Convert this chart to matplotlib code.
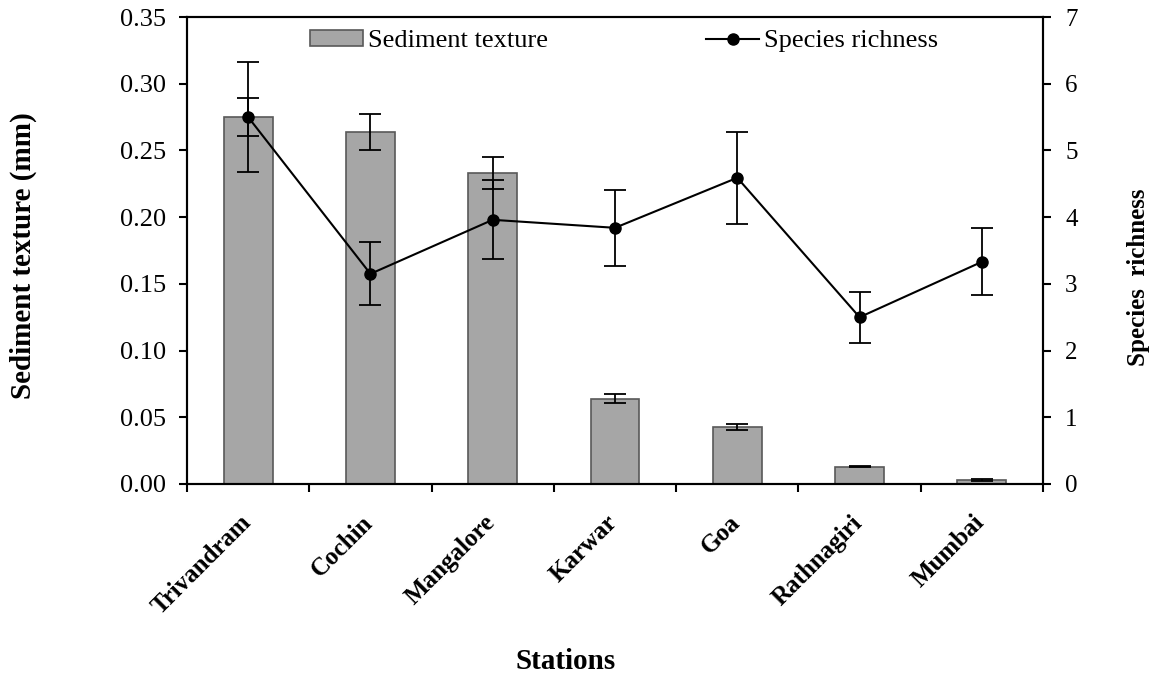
import matplotlib
matplotlib.use("Agg")
import matplotlib.pyplot as plt
import matplotlib.transforms as mtransforms
import numpy as np
from matplotlib.ticker import FixedLocator, NullFormatter
from matplotlib.lines import Line2D

plt.rcParams['font.family'] = ['Liberation Serif', 'DejaVu Serif']

stations = ["Trivandram", "Cochin", "Mangalore", "Karwar", "Goa", "Rathnagiri", "Mumbai"]
sediment = [0.275, 0.264, 0.233, 0.064, 0.043, 0.013, 0.003]
sediment_err = [0.014, 0.0135, 0.012, 0.0034, 0.0023, 0.0006, 0.0004]
richness = [5.50, 3.15, 3.96, 3.84, 4.59, 2.50, 3.33]
richness_err = [0.82, 0.47, 0.59, 0.57, 0.69, 0.38, 0.50]

W, H = 1166, 680
L, R, T, B = 187, 1043, 17, 484
fig = plt.figure(figsize=(W / 100, H / 100), dpi=100)
ax = fig.add_axes([L / W, 1 - B / H, (R - L) / W, (B - T) / H])
ax2 = ax.twinx()

x = np.arange(len(stations))
bars = ax.bar(x, sediment, width=0.4, color="#A6A6A6", edgecolor="#595959",
              linewidth=1.2, yerr=sediment_err,
              error_kw=dict(ecolor="black", elinewidth=1.3, capsize=8, capthick=1.3),
              zorder=2)

ax2.errorbar(x, richness, yerr=richness_err, color="black", linewidth=1.5,
             marker="o", markersize=8, ecolor="black", elinewidth=1.3,
             capsize=8, capthick=1.3)

ax.set_xlim(-0.5, len(stations) - 0.5)
ax.set_ylim(0, 0.35)
ax2.set_ylim(0, 7)
yt = np.arange(0, 0.351, 0.05)
ax.set_yticks(yt)
ax.set_yticklabels([f"{v:.2f}" for v in yt])
ax2.set_yticks(range(0, 8))

# station names, slanted, hanging below each category centre
ax.set_xticks(x)
ax.set_xticklabels([])
offset = mtransforms.ScaledTranslation(-9 / 100, -27 / 100, fig.dpi_scale_trans)
for xi, name in zip(x, stations):
    ax.text(xi, 0, name, transform=ax.get_xaxis_transform() + offset,
            rotation=45, ha="right", va="top", rotation_mode="anchor",
            fontweight="bold", fontsize=18)
ax.xaxis.set_minor_locator(FixedLocator(np.arange(-0.5, len(stations), 1.0)))
ax.xaxis.set_minor_formatter(NullFormatter())
ax.tick_params(axis="x", which="major", length=0)
ax.tick_params(axis="x", which="minor", length=6, width=1.5, direction="out")
ax.tick_params(axis="y", length=6, width=1.5, direction="out", labelsize=19, pad=9)
ax2.tick_params(axis="y", length=6, width=1.5, direction="out", labelsize=18, pad=10)

for a in (ax, ax2):
    for s in a.spines.values():
        s.set_linewidth(1.5)

ax.set_xlabel("Stations", fontsize=21, fontweight="bold")
ax.xaxis.set_label_coords((566 - L) / (R - L), -(648 - B) / (B - T))
ax.set_ylabel("Sediment texture (mm)", fontsize=21, fontweight="bold", va="center")
ax.yaxis.set_label_coords(-(L - 23) / (R - L), 1 - (256 - T) / (B - T))
ax2.set_ylabel("Species  richness", fontsize=18, fontweight="bold", rotation=90,
               va="center")
ax2.yaxis.set_label_coords(1 + (1138 - R) / (R - L), 1 - (277 - T) / (B - T))

bar_handle = plt.Rectangle((0, 0), 1, 1, facecolor="#A6A6A6", edgecolor="#595959",
                           linewidth=1.2)
line_handle = Line2D([], [], color="black", linewidth=1.5, marker="o", markersize=8)
fig.legend([bar_handle, line_handle], ["Sediment texture", "Species richness"],
           loc="center left", bbox_to_anchor=(310 / W, 1 - 41 / H),
           ncol=2, frameon=False, fontsize=19, borderpad=0, borderaxespad=0,
           handlelength=2.0, handleheight=0.6, handletextpad=0.2, columnspacing=6.0)

fig.savefig("out.png", dpi=100)
